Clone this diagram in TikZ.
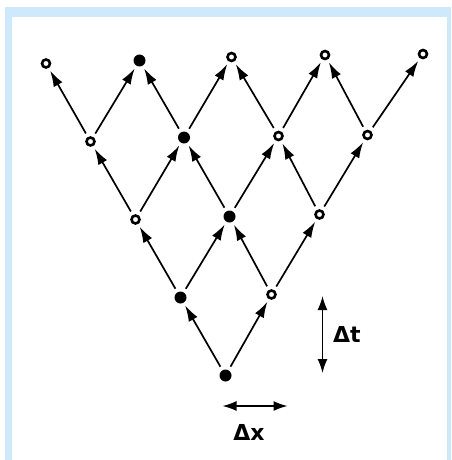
\documentclass[tikz,border=0pt]{standalone}
\usepackage{fontspec}
\setmainfont{DejaVu Sans}
\usetikzlibrary{arrows.meta}
\definecolor{frameblue}{HTML}{CDE9FB}
\definecolor{inkblack}{HTML}{000000}

\begin{document}
\begin{tikzpicture}[x=1pt, y=-1pt,
    fullsite/.style={circle, fill=inkblack, inner sep=0pt, minimum size=12pt},
    emptysite/.style={circle, draw=inkblack, fill=white, line width=2.6pt, inner sep=0pt, minimum size=8pt},
    hop/.style={-{Latex[length=16pt,width=10pt]}, line width=1.7pt, shorten <=4pt, shorten >=3pt},
    ruler/.style={{Latex[length=14pt,width=10pt]}-{Latex[length=14pt,width=10pt]}, line width=1.5pt},
    lbl/.style={font=\bfseries\fontsize{22}{24}\selectfont, inner sep=0pt}]
  \useasboundingbox (0,0) rectangle (451,460);
  % frame
  \fill[frameblue] (5,7) rectangle (451,460);
  \fill[white] (12,17) rectangle (447,460);
  % lattice sites, row by row from the bottom
  \node[fullsite]  (n00) at (225.5,375.5) {};
  \node[fullsite]  (n10) at (180.5,297.5) {};
  \node[emptysite] (n11) at (271.5,294.5) {};
  \node[emptysite] (n20) at (135.5,219.5) {};
  \node[fullsite]  (n21) at (229.5,216.5) {};
  \node[emptysite] (n22) at (319.5,214.5) {};
  \node[emptysite] (n30) at (90.5,141.5) {};
  \node[fullsite]  (n31) at (184,137.5) {};
  \node[emptysite] (n32) at (278.5,136) {};
  \node[emptysite] (n33) at (367.5,135) {};
  \node[emptysite] (n40) at (46,63.5) {};
  \node[fullsite]  (n41) at (139.5,60.5) {};
  \node[emptysite] (n42) at (231.5,57) {};
  \node[emptysite] (n43) at (325,55) {};
  \node[emptysite] (n44) at (423,54) {};
  % hops
  \draw[hop] (n00) -- (n10); \draw[hop] (n00) -- (n11);
  \draw[hop] (n10) -- (n20); \draw[hop] (n10) -- (n21);
  \draw[hop] (n11) -- (n21); \draw[hop] (n11) -- (n22);
  \draw[hop] (n20) -- (n30); \draw[hop] (n20) -- (n31);
  \draw[hop] (n21) -- (n31); \draw[hop] (n21) -- (n32);
  \draw[hop] (n22) -- (n32); \draw[hop] (n22) -- (n33);
  \draw[hop] (n30) -- (n40); \draw[hop] (n30) -- (n41);
  \draw[hop] (n31) -- (n41); \draw[hop] (n31) -- (n42);
  \draw[hop] (n32) -- (n42); \draw[hop] (n32) -- (n43);
  \draw[hop] (n33) -- (n43); \draw[hop] (n33) -- (n44);
  % step sizes
  \coordinate (ttop) at (322.5,296);
  \coordinate (tbot) at (322.5,373);
  \draw[ruler] (ttop) -- (tbot);
  \node[lbl, anchor=west] (dt) at (333,334) {Δt};
  \coordinate (xlft) at (222.5,406);
  \coordinate (xrgt) at (287.5,406);
  \draw[ruler] (xlft) -- (xrgt);
  \node[lbl, anchor=north] (dx) at (249,424) {Δx};
\end{tikzpicture}
\end{document}
